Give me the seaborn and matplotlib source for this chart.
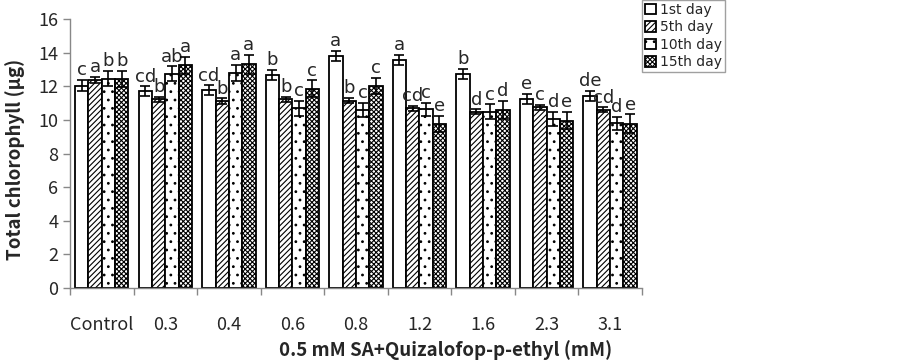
import numpy as np
import pandas as pd
import matplotlib
matplotlib.use("Agg")
import matplotlib.pyplot as plt
import seaborn as sns

# data
doses = ['Control', '0.3', '0.4', '0.6', '0.8', '1.2', '1.6', '2.3', '3.1']
days = ['1st day', '5th day', '10th day', '15th day']
day1 = [12.04, 11.7, 11.76, 12.68, 13.8, 13.57, 12.72, 11.25, 11.45]
day5 = [12.38, 11.23, 11.13, 11.23, 11.15, 10.7, 10.48, 10.75, 10.6]
day10 = [12.46, 12.74, 12.82, 10.7, 10.6, 10.64, 10.48, 10.06, 9.8]
day15 = [12.44, 13.25, 13.31, 11.85, 12.02, 9.76, 10.6, 9.96, 9.78]
err1 = [0.32, 0.3, 0.3, 0.3, 0.3, 0.3, 0.3, 0.3, 0.3]
err5 = [0.16, 0.15, 0.15, 0.15, 0.15, 0.15, 0.15, 0.15, 0.15]
err10 = [0.44, 0.45, 0.48, 0.45, 0.4, 0.4, 0.45, 0.4, 0.4]
err15 = [0.5, 0.5, 0.55, 0.5, 0.5, 0.5, 0.55, 0.5, 0.55]
let1 = ['c', 'cd', 'cd', 'b', 'a', 'a', 'b', 'e', 'de']
let5 = ['a', 'b', 'b', 'b', 'b', 'cd', 'd', 'c', 'cd']
let10 = ['b', 'ab', 'a', 'c', 'c', 'c', 'c', 'd', 'd']
let15 = ['b', 'a', 'a', 'c', 'c', 'e', 'd', 'e', 'e']

vals = [day1, day5, day10, day15]
errs = [err1, err5, err10, err15]
lets = [let1, let5, let10, let15]

df = pd.DataFrame({
    'dose': doses * 4,
    'day': np.repeat(days, len(doses)),
    'chl': day1 + day5 + day10 + day15,
})

sns.set_style('white')
plt.rcParams['font.family'] = ['Noto Sans CJK SC', 'DejaVu Sans']
plt.rcParams['hatch.linewidth'] = 0.8

fig = plt.figure(figsize=(9.02, 3.61), dpi=100)
ax = fig.add_axes([0.0776, 0.202, 0.634, 0.745])

sns.barplot(data=df, x='dose', y='chl', hue='day', order=doses, hue_order=days,
            palette=['white'] * 4, errorbar=None, width=0.84, ax=ax, saturation=1,
            edgecolor='black', linewidth=1.3)

hatches = ['', '//////', '..', 'xxxxxxx']
bars = list(ax.containers)
for i, cont in enumerate(bars):
    for j, p in enumerate(cont.patches):
        p.set_facecolor('white')
        p.set_hatch(hatches[i])
        p.set_edgecolor('black')
        cx = p.get_x() + p.get_width() / 2
        ax.errorbar(cx, vals[i][j], yerr=errs[i][j], color='black',
                    capsize=3.5, elinewidth=1.2, capthick=1.2, zorder=5)
        ax.text(cx, vals[i][j] + errs[i][j] + 0.05, lets[i][j], ha='center',
                va='bottom', fontsize=13, family='DejaVu Sans')

ax.set_ylim(0, 16)
ax.set_xlim(-0.5, len(doses) - 0.5)
ax.set_yticks(range(0, 17, 2))
ax.set_xticks(np.arange(-0.5, len(doses)), minor=True)
ax.tick_params(axis='x', which='major', length=0, pad=20, labelsize=13)
ax.tick_params(axis='x', which='minor', length=5, color='#888888', width=1, bottom=True)
ax.tick_params(axis='y', length=5, color='#888888', width=1, labelsize=13, left=True)
for s in ['top', 'right']:
    ax.spines[s].set_visible(False)
for s in ['left', 'bottom']:
    ax.spines[s].set_color('#888888')
    ax.spines[s].set_linewidth(1)

ax.set_xlabel('0.5 mM SA+Quizalofop-p-ethyl (mM)', fontsize=13.5, fontweight='bold')
ax.xaxis.set_label_coords(0.656, -0.195)
ax.set_ylabel('Total chlorophyll (μg)', fontsize=13.5, fontweight='bold')
ax.yaxis.set_label_coords(-0.078, 0.48)

handles, labels = ax.get_legend_handles_labels()
for h, hs in zip(handles, hatches):
    h.set_facecolor('white')
    h.set_edgecolor('black')
    h.set_hatch(hs)
    h.set_linewidth(1.3)
leg = ax.legend(handles, labels, title=None, loc='upper left', bbox_to_anchor=(0.712, 1.0),
                bbox_transform=fig.transFigure, frameon=True,
                prop={'family': 'DejaVu Sans', 'size': 10},
                fancybox=False, edgecolor='#888888', handlelength=0.8,
                handleheight=0.8, handletextpad=0.3, labelspacing=0.25,
                borderpad=0.2, borderaxespad=0)
leg.get_frame().set_linewidth(1)

fig.savefig('out.png', dpi=100)
